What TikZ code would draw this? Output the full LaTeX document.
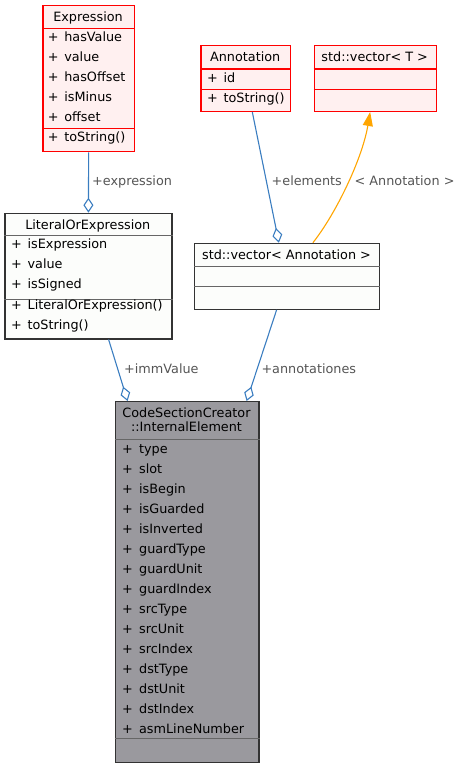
\documentclass[tikz,border=0pt]{standalone}
\usepackage{fontspec}
\setmainfont{DejaVu Sans}
\usetikzlibrary{arrows.meta}
\definecolor{redfill}{HTML}{FFF0F0}
\definecolor{wfill}{HTML}{FCFDFB}
\definecolor{gfill}{HTML}{9A999E}
\definecolor{edgeblue}{HTML}{3A7DC0}
\definecolor{edgeorange}{HTML}{FFA500}
\definecolor{bord}{HTML}{333333}
\definecolor{sepgray}{HTML}{666666}
\definecolor{lblgray}{HTML}{555555}
\begin{document}
\begin{tikzpicture}[x=1pt,y=-1pt,
  font=\fontsize{12.8}{14.5}\selectfont,
  redbox/.style={draw=red, fill=redfill, line width=1.3pt, inner sep=0pt, anchor=north west},
  whitebox/.style={draw=bord, fill=wfill, line width=1.2pt, inner sep=0pt, anchor=north west},
  graybox/.style={draw=bord, fill=gfill, line width=1.2pt, inner sep=0pt, anchor=north west},
  redsep/.style={draw=red, line width=1.1pt},
  graysep/.style={draw=sepgray, line width=1pt},
  row/.style={anchor=west, inner sep=0pt, text height=9.3pt, text depth=0pt},
  title/.style={anchor=center, inner sep=0pt, text height=9.3pt, text depth=0pt},
  elabel/.style={anchor=west, inner sep=0pt, text height=9.3pt, text depth=0pt, text=lblgray},
  uses/.style={draw=edgeblue, line width=1.1pt, -{Diamond[open, length=15pt, width=10pt]}},
  templ/.style={draw=edgeorange, line width=1.1pt, -{Triangle[length=14pt, width=10pt, fill=edgeorange]}}
]
\useasboundingbox (0,0) rectangle (461,767);

% ---------- Expression ----------
\node[redbox, minimum width=91.4pt, minimum height=146.3pt] (expr) at (42.3,4.7) {};
\draw[redsep] (expr.west |- 0,28.7) -- (expr.east |- 0,28.7);
\draw[redsep] (expr.west |- 0,128.7) -- (expr.east |- 0,128.7);
\node[title] (expr-t) at (88,17.3) {Expression};
\foreach \yy/\tt [count=\i] in {37.3/hasValue, 57.3/value, 77.3/hasOffset, 97.3/isMinus, 117.3/offset, 137.3/toString()}
  \node[row] (expr-\i) at (47.7,\yy) {+\hspace{5.7pt}\tt};

% ---------- Annotation ----------
\node[redbox, minimum width=89.7pt, minimum height=66pt] (annot) at (200.3,44.7) {};
\draw[redsep] (annot.west |- 0,69) -- (annot.east |- 0,69);
\draw[redsep] (annot.west |- 0,89.3) -- (annot.east |- 0,89.3);
\node[title] (annot-t) at (245.2,57.3) {Annotation};
\node[row] (annot-1) at (207,77.7) {+\hspace{5.7pt}id};
\node[row] (annot-2) at (207,98) {+\hspace{5.7pt}toString()};

% ---------- std::vector< T > ----------
\node[redbox, minimum width=122pt, minimum height=66pt] (vecT) at (313.7,44.7) {};
\draw[redsep] (vecT.west |- 0,69) -- (vecT.east |- 0,69);
\draw[redsep] (vecT.west |- 0,89.3) -- (vecT.east |- 0,89.3);
\node[title] (vecT-t) at (374.7,57.3) {std::vector< T >};

% ---------- std::vector< Annotation > ----------
\node[whitebox, minimum width=185pt, minimum height=66pt] (vecA) at (194,242.7) {};
\draw[graysep] (vecA.west |- 0,266.7) -- (vecA.east |- 0,266.7);
\draw[graysep] (vecA.west |- 0,286.7) -- (vecA.east |- 0,286.7);
\node[title] (vecA-t) at (286.5,255.3) {std::vector< Annotation >};

% ---------- LiteralOrExpression ----------
\node[whitebox, minimum width=167pt, minimum height=125.6pt] (loe) at (4.3,212.7) {};
\draw[graysep] (loe.west |- 0,235.3) -- (loe.east |- 0,235.3);
\draw[graysep] (loe.west |- 0,299) -- (loe.east |- 0,299);
\node[title] (loe-t) at (87.8,225) {LiteralOrExpression};
\foreach \yy/\tt [count=\i] in {244.3/isExpression, 264.3/value, 284.3/isSigned, 304.7/LiteralOrExpression(), 325.3/toString()}
  \node[row] (loe-\i) at (11,\yy) {+\hspace{5.7pt}\tt};

% ---------- CodeSectionCreator::InternalElement ----------
\node[graybox, minimum width=143.6pt, minimum height=360.7pt] (main) at (114.7,401) {};
\draw[graysep] (main.west |- 0,439) -- (main.east |- 0,439);
\draw[graysep] (main.west |- 0,738.3) -- (main.east |- 0,738.3);
\node[anchor=center, inner sep=0pt, align=center, font=\fontsize{12.8}{14}\selectfont] (main-t) at (186.5,420) {CodeSectionCreator\\::InternalElement};
\foreach \yy/\tt [count=\i] in {449/type, 469/slot, 489/isBegin, 509/isGuarded, 529/isInverted, 549/guardType, 569/guardUnit, 589/guardIndex, 609/srcType, 629/srcUnit, 649/srcIndex, 669/dstType, 689/dstUnit, 709/dstIndex, 729/asmLineNumber}
  \node[row] (main-\i) at (122,\yy) {+\hspace{6.2pt}\tt};

% ---------- connectors ----------
\draw[uses] (expr.south) -- (loe.north);
\draw[uses] ([xshift=6.5pt]annot.south) -- ([xshift=-8.2pt]vecA.north);
\draw[uses] ([xshift=20.2pt]loe.south) -- ([xshift=-59.5pt]main.north);
\draw[uses] ([xshift=-10.5pt]vecA.south) -- ([xshift=59.5pt]main.north);
\draw[templ] ([xshift=25.8pt]vecA.north) .. controls (335,215) and (362,160) .. ([xshift=-5.2pt]vecT.south);

% ---------- edge labels ----------
\node[elabel] (l-expr) at (92,181) {+expression};
\node[elabel] (l-elem) at (271.5,180.7) {+elements};
\node[elabel] (l-tmpl) at (354.5,180.7) {< Annotation >};
\node[elabel] (l-imm) at (124,369.3) {+immValue};
\node[elabel] (l-ann) at (261.3,369.3) {+annotationes};
\end{tikzpicture}
\end{document}
